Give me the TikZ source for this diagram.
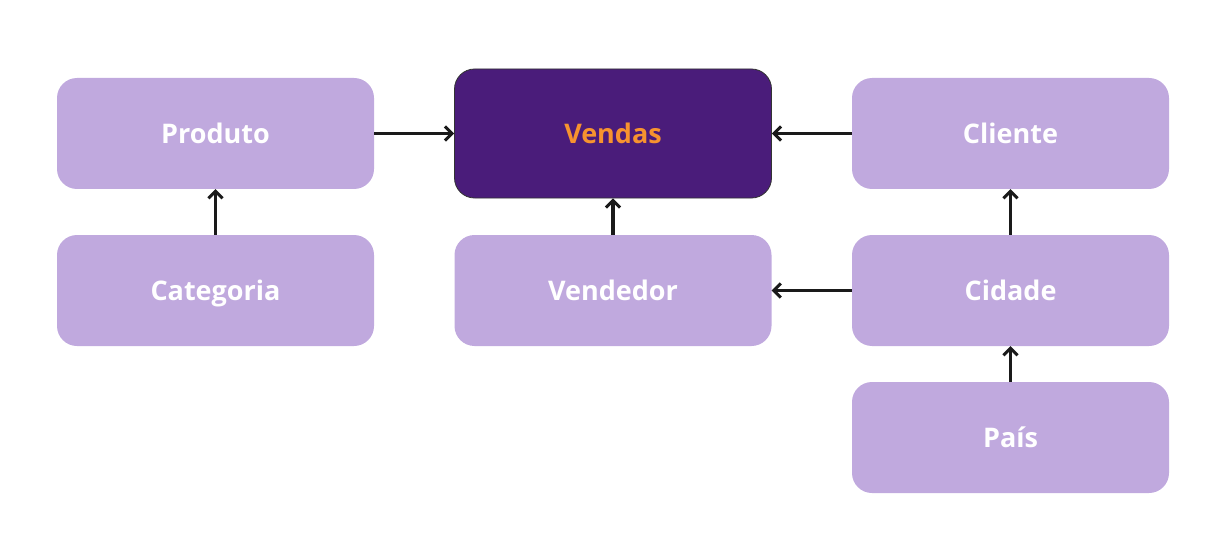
\documentclass[tikz,border=0pt]{standalone}
\usepackage{fontspec}
\setmainfont{Open Sans}
\usepackage{tikz}
\usetikzlibrary{calc, arrows.meta, positioning}
\definecolor{lilas}{HTML}{C0A9DE}
\definecolor{roxo}{HTML}{4A1C7A}
\definecolor{laranja}{HTML}{F7932F}
\definecolor{seta}{HTML}{1A1A1A}
\tikzset{
  tabela/.style={fill=lilas, rounded corners=20pt, minimum width=317pt, minimum height=111pt,
    text=white, font=\bfseries\fontsize{27}{31}\selectfont, inner sep=0pt,
    text height=26pt, text depth=6pt},
  fato/.style={tabela, fill=roxo, draw=black!80, line width=0.8pt, minimum height=129pt, text=laranja},
  liga/.style={-{Straight Barb[length=7pt,width=14pt,line width=3pt]}, line width=3.5pt, draw=seta}
}
\begin{document}
\begin{tikzpicture}[x=1pt, y=1pt]
    \useasboundingbox (0,0) rectangle (1222,539);
    \node[tabela] (produto) at (215.5,405.5) {Produto};
\node[fato] (vendas) at (613,405.5) {Vendas};
\node[tabela] (cliente) at (1010.5,405.5) {Cliente};
\node[tabela] (categoria) at (215.5,248.5) {Categoria};
\node[tabela] (vendedor) at (613,248.5) {Vendedor};
\node[tabela] (cidade) at (1010.5,248.5) {Cidade};
\node[tabela] (pais) at (1010.5,101.5) {País};
\draw[liga] (produto) -- (vendas);
\draw[liga] (cliente) -- (vendas);
\draw[liga] (categoria) -- (produto);
\draw[liga] (vendedor) -- (vendas);
\draw[liga] (cidade) -- (vendedor);
\draw[liga] (cidade) -- (cliente);
\draw[liga] (pais) -- (cidade);
  \end{tikzpicture}
\end{document}
